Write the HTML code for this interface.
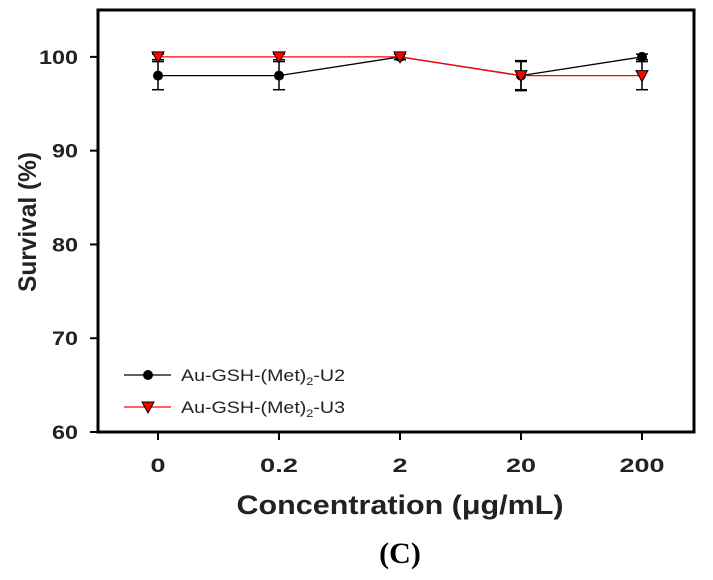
<!DOCTYPE html>
<html><head><meta charset="utf-8"><style>
body{margin:0;background:#fff}
svg{display:block;font-family:"Liberation Sans",Arial,sans-serif}
</style></head><body>
<svg id="c" width="713" height="580"></svg>
<script>
const categories=["0","0.2","2","20","200"];
const u2Values=[98,98,100,98,100];
const u2Errors=[1.5,1.5,0.3,1.6,0.3];
const u3Values=[100,100,100,98,98];
const u3Errors=[0.3,0.3,0.3,1.5,1.5];
const yTicks=[60,70,80,90,100];
const L=98,R=694,T=10,B=432,yMin=60,yMax=105;
const NS="http://www.w3.org/2000/svg";
const svg=document.getElementById('c');
function y(v){return B-(v-yMin)/(yMax-yMin)*(B-T);}
function x(i){return 158+i*121;}
function mk(tag,attrs,parent){const e=document.createElementNS(NS,tag);for(const k in attrs)e.setAttribute(k,attrs[k]);(parent||svg).appendChild(e);return e;}
let f=mk('rect',{x:L,y:T,width:R-L,height:B-T,fill:'none',stroke:'#000','stroke-width':3});


yTicks.forEach(v=>{
 let t=mk('line',{x1:L-8,x2:L,y1:y(v),y2:y(v),stroke:'#000','stroke-width':2});
 
 
 let l=mk('text',{x:L-20,y:y(v)+7,'text-anchor':'end','font-size':19,'font-weight':'bold',fill:'#222'});
 l.textContent=v;
 l.setAttribute('textLength',String(v).length*13);
 l.setAttribute('lengthAdjust','spacingAndGlyphs');
 
 
});
categories.forEach((c,i)=>{
 let t=mk('line',{x1:x(i),x2:x(i),y1:B,y2:B+8,stroke:'#000','stroke-width':2});
 
 
 let l=mk('text',{x:x(i),y:472,'text-anchor':'middle','font-size':19,'font-weight':'bold',fill:'#222'});
 l.textContent=c;
 l.setAttribute('textLength',c.length*15-(c.includes('.')?7:0));
 l.setAttribute('lengthAdjust','spacingAndGlyphs');
 
 
});
function series(vals,errs,color,marker,name){
 const g=mk('g',{});
 
 
 mk('polyline',{points:vals.map((v,i)=>x(i)+','+y(v)).join(' '),fill:'none',stroke:color,'stroke-width':1.3},g);
 vals.forEach((v,i)=>{
  const cx=x(i);
  mk('line',{x1:cx,x2:cx,y1:y(v+errs[i]),y2:y(v-errs[i]),stroke:'#000','stroke-width':1.5},g);
  [v+errs[i],v-errs[i]].forEach(e=>mk('line',{x1:cx-6,x2:cx+6,y1:y(e),y2:y(e),stroke:'#000','stroke-width':1.5},g));
  const cy=y(v);
  let m;
  if(marker==='c')m=mk('circle',{cx:cx,cy:cy,r:5,fill:'#000'},g);
  else m=mk('polygon',{points:`${cx-6},${cy-5} ${cx+6},${cy-5} ${cx},${cy+6}`,fill:'red',stroke:'#000','stroke-width':1},g);
  
  
 });
}
series(u2Values,u2Errors,'#000','c','series-u2');
series(u3Values,u3Errors,'red','t','series-u3');
</script>
<svg width="713" height="580" style="position:absolute;left:0;top:0">
<g>
<line x1="124" x2="171" y1="375" y2="375" stroke="#000" stroke-width="1.3"/>
<circle cx="148" cy="375" r="5" fill="#000"/>
<text x="181" y="381" font-size="17" fill="#222" font-family="Liberation Sans,Arial,sans-serif" textLength="164" lengthAdjust="spacingAndGlyphs">Au-GSH-(Met)<tspan font-size="11" dy="4">2</tspan><tspan dy="-4">-U2</tspan></text>
<line x1="124" x2="171" y1="407" y2="407" stroke="red" stroke-width="1.3"/>
<polygon points="142,402 154,402 148,413" fill="red" stroke="#000" stroke-width="1"/>
<text x="181" y="413" font-size="17" fill="#222" font-family="Liberation Sans,Arial,sans-serif" textLength="164" lengthAdjust="spacingAndGlyphs">Au-GSH-(Met)<tspan font-size="11" dy="4">2</tspan><tspan dy="-4">-U3</tspan></text>
</g>
<text x="400" y="514" text-anchor="middle" font-size="27" font-weight="bold" fill="#222" font-family="Liberation Sans,Arial,sans-serif" textLength="327" lengthAdjust="spacingAndGlyphs">Concentration (μg/mL)</text>
<text transform="translate(36,222) rotate(-90)" text-anchor="middle" font-size="25" font-weight="bold" fill="#222" font-family="Liberation Sans,Arial,sans-serif" textLength="140" lengthAdjust="spacingAndGlyphs">Survival (%)</text>
<text x="400" y="563" text-anchor="middle" font-size="30" font-weight="bold" fill="#000" font-family="Liberation Serif,Times,serif">(C)</text>
</svg>
</body></html>
